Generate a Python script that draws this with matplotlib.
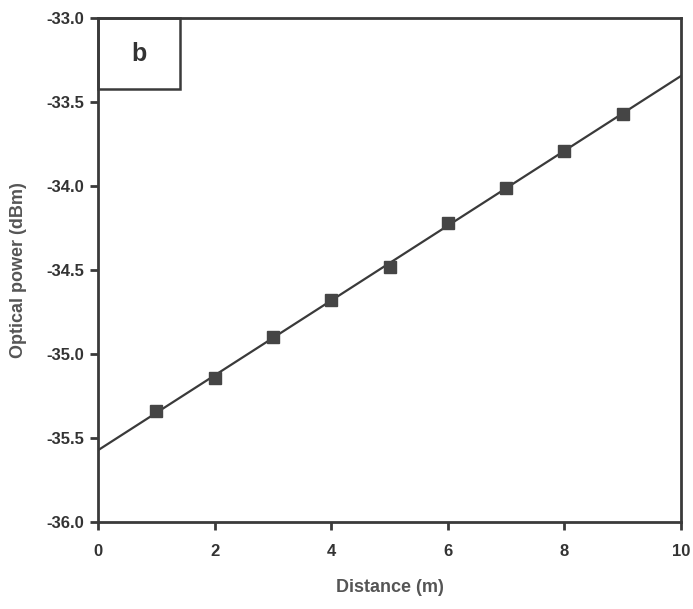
import numpy as np
import matplotlib
matplotlib.use('Agg')
import matplotlib.pyplot as plt
from matplotlib.patches import Rectangle

plt.rcParams['font.family'] = ['Liberation Sans', 'DejaVu Sans']

# measured points
distance = [1, 2, 3, 4, 5, 6, 7, 8, 9]
power = [-35.34, -35.14, -34.90, -34.68, -34.48, -34.22, -34.01, -33.79, -33.57]

xticks = [0, 2, 4, 6, 8, 10]
yticks = [-36.0, -35.5, -35.0, -34.5, -34.0, -33.5, -33.0]

# linear fit across the full range
k, b = np.polyfit(distance, power, 1)
fit_x = np.array([0, 10])
fit_y = k * fit_x + b

dark = '#3a3a3a'

fig = plt.figure(figsize=(6.93, 6.09), dpi=100)
ax = fig.add_axes([0.1414, 0.1429, 0.8413, 0.8275])

ax.plot(fit_x, fit_y, color=dark, lw=1.6, zorder=2)
ax.plot(distance, power, ls='none', marker='s', ms=9, color='#454545', zorder=3)

ax.set_xlim(0, 10)
ax.set_ylim(-36.0, -33.0)
ax.set_xticks(xticks)
ax.set_yticks(yticks)
ax.set_xticklabels([str(t) for t in xticks])
ax.set_yticklabels(['%.1f' % t for t in yticks])

for s in ax.spines.values():
    s.set_color(dark)
    s.set_linewidth(2.0)
ax.tick_params(direction='out', length=6, width=2, color=dark,
               labelsize=12, labelcolor='#333333', pad=4)
for lab in ax.get_xticklabels() + ax.get_yticklabels():
    lab.set_fontweight('bold')
ax.tick_params(axis='x', pad=10)

ax.set_xlabel('Distance (m)', fontsize=13, fontweight='bold', color='#555555', labelpad=14)
ax.set_ylabel('Optical power (dBm)', fontsize=13, fontweight='bold', color='#555555', labelpad=14)

# panel label box
ax.add_patch(Rectangle((0, 1 - 0.141), 0.1406, 0.141, transform=ax.transAxes,
                       fill=False, edgecolor=dark, lw=1.8, zorder=4, clip_on=False))
ax.text(0.0703, 1 - 0.0705, 'b', transform=ax.transAxes, ha='center', va='center',
        fontsize=18, fontweight='bold', color='#333333')

fig.savefig('out.png', dpi=100)
